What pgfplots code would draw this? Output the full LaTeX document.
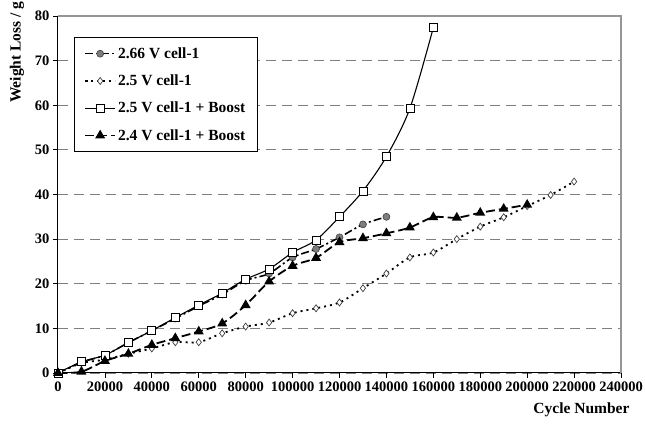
\documentclass[border=0pt]{standalone}
\usepackage{fontspec}
\setmainfont{Liberation Serif}
\usepackage{pgfplots}
\pgfplotsset{compat=1.18}

\definecolor{gridgray}{RGB}{128,128,128}
\definecolor{framegray}{RGB}{150,150,150}
\definecolor{markgray}{RGB}{125,125,125}

\begin{document}
\begin{tikzpicture}
\path[use as bounding box] (-58pt,-52pt) rectangle (587pt,373pt);
\begin{axis}[
    at={(0pt,0pt)}, anchor=south west,
    scale only axis, width=563pt, height=357pt,
    xmin=0, xmax=240000, ymin=0, ymax=80,
    xtick={0,20000,...,240000}, ytick={0,10,...,80},
    scaled x ticks=false,
    /pgf/number format/fixed,
    /pgf/number format/precision=0,
    /pgf/number format/1000 sep={},
    /pgf/number format/assume math mode=true,
    axis x line*=bottom, axis y line*=left,
    axis line style={black, line width=1pt, -},
    tick align=outside, major tick length=5pt,
    tick style={black, line width=0.8pt},
    ymajorgrids,
    grid style={gridgray, dash pattern=on 10pt off 6pt, line width=1.1pt},
    ticklabel style={font=\fontsize{14.5}{16}\selectfont\bfseries},
    label style={font=\fontsize{15.5}{17}\selectfont\bfseries},
    xlabel={Cycle Number}, ylabel={Weight Loss / g},
    xlabel style={at={(axis description cs:1.0213,-0.1036)}, anchor=east},
    ylabel style={at={(axis description cs:-0.0728,0.899)}, anchor=center},
    clip=false,
    legend cell align=left,
    legend image code/.code={
        \draw[mark repeat=2,mark phase=2,#1]
        plot coordinates {(0pt,0pt) (15pt,0pt) (30pt,0pt)};
    },
    legend style={at={(axis description cs:0.028,0.941)}, anchor=north west,
        draw=black, line width=1pt,
        font=\fontsize{15.5}{17}\selectfont\bfseries,
        row sep=11pt, inner xsep=10pt, inner ysep=8pt},
]

% 2.66 V cell-1
\addplot[black, line width=1.6pt, smooth,
    dash pattern=on 8pt off 3pt on 2pt off 3pt,
    mark=*, mark size=3.5pt,
    mark options={solid, fill=markgray, draw=darkgray, line width=0.6pt}]
coordinates {
(0,0) (10000,2.4) (20000,4.0) (30000,6.8) (40000,9.5) (50000,12.2)
(60000,15.0) (70000,17.6) (80000,20.7) (90000,22.3) (100000,25.9)
(110000,27.8) (120000,30.4) (130000,33.3) (140000,35.0)
};
\addlegendentry{2.66 V cell-1}

% 2.5 V cell-1
\addplot[black, line width=1.8pt, smooth,
    dash pattern=on 2pt off 4pt,
    mark=diamond*, mark size=3.5pt,
    mark options={solid, fill=white, draw=darkgray, line width=0.7pt}]
coordinates {
(0,0) (10000,2.2) (20000,3.0) (30000,4.3) (40000,5.5) (50000,6.9)
(60000,6.9) (70000,8.9) (80000,10.4) (90000,11.3) (100000,13.4)
(110000,14.5) (120000,15.8) (130000,19.0) (140000,22.3) (150000,25.9)
(160000,27.0) (170000,30.0) (180000,32.8) (190000,34.9) (200000,37.4)
(210000,39.9) (220000,42.9)
};
\addlegendentry{2.5 V cell-1}

% 2.5 V cell-1 + Boost
\addplot[black, line width=1.1pt, smooth,
    mark=square*, mark size=4pt,
    mark options={solid, fill=white, draw=black, line width=0.7pt}]
coordinates {
(0,0) (10000,2.5) (20000,4.0) (30000,6.8) (40000,9.5) (50000,12.4)
(60000,15.2) (70000,17.9) (80000,21.0) (90000,23.3) (100000,27.0)
(110000,29.8) (120000,35.0) (130000,40.8) (140000,48.5) (150000,59.3)
(160000,77.4)
};
\addlegendentry{2.5 V cell-1 + Boost}

% 2.4 V cell-1 + Boost
\addplot[black, line width=1.8pt, smooth,
    dash pattern=on 9pt off 4pt,
    mark=triangle*, mark size=4pt,
    mark options={solid, fill=black, draw=black}]
coordinates {
(0,0) (10000,0.3) (20000,2.7) (30000,4.3) (40000,6.3) (50000,7.8)
(60000,9.3) (70000,11.1) (80000,15.2) (90000,20.5) (100000,24.0)
(110000,25.8) (120000,29.3) (130000,30.2) (140000,31.3) (150000,32.6)
(160000,34.9) (170000,34.8) (180000,35.9) (190000,36.8) (200000,37.7)
};
\addlegendentry{2.4 V cell-1 + Boost}

% grey frame at top and right
\draw[framegray, line width=1.2pt]
    (rel axis cs:0,1) -- (rel axis cs:1,1) -- (rel axis cs:1,0);

\end{axis}
\end{tikzpicture}
\end{document}
